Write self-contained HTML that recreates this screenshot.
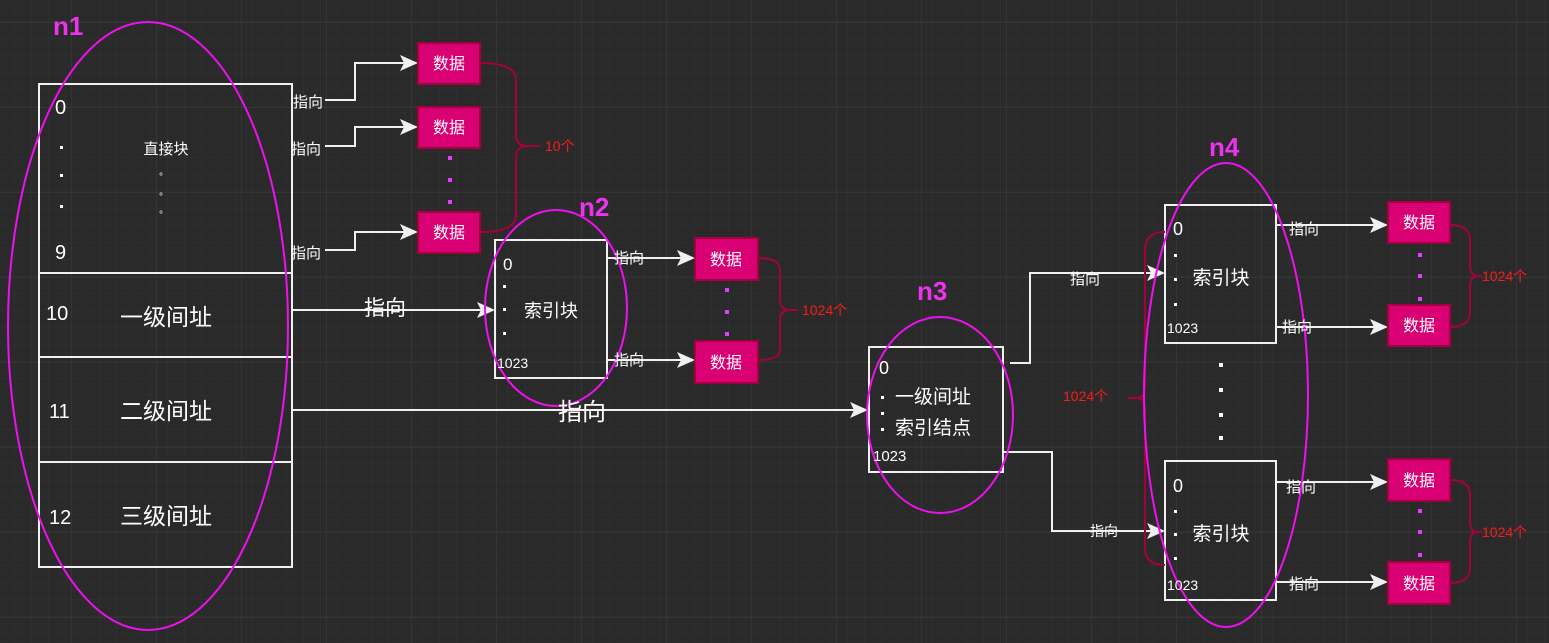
<!DOCTYPE html>
<html><head><meta charset="utf-8"><style>
html,body{margin:0;padding:0;background:#2a2a2a}
svg{display:block}
text{font-family:"Liberation Sans","Noto Sans CJK SC",sans-serif}
</style></head><body>
<svg width="1549" height="643" viewBox="0 0 1549 643" xmlns="http://www.w3.org/2000/svg">
<defs>
<pattern id="gm" width="17" height="17" patternUnits="userSpaceOnUse" x="-2" y="5"><path d="M17 0V17M0 17H17" stroke="#313131" stroke-width="1" fill="none"/></pattern>
<pattern id="gM" width="85" height="85" patternUnits="userSpaceOnUse" x="-14" y="22"><path d="M0 0V85M0 0H85" stroke="#3d3d3d" stroke-width="1" fill="none"/></pattern>
<marker id="ar" markerWidth="18" markerHeight="16" refX="16" refY="8" orient="auto" markerUnits="userSpaceOnUse"><path d="M0 0L18 8L0 16L4 8Z" fill="#f0f0f0"/></marker>
</defs>
<rect width="1549" height="643" fill="#2a2a2a"/>
<rect width="1549" height="643" fill="url(#gm)"/>
<rect width="1549" height="643" fill="url(#gM)"/>

<g fill="none" stroke="#f0f0f0" stroke-width="2">
<rect x="39" y="84" width="253" height="483"/>
<line x1="39" y1="273" x2="292" y2="273"/>
<line x1="39" y1="357" x2="292" y2="357"/>
<line x1="39" y1="462" x2="292" y2="462"/>
<rect x="495" y="240" width="112" height="138"/>
<rect x="869" y="347" width="134" height="125"/>
<rect x="1165" y="205" width="111" height="138"/>
<rect x="1165" y="461" width="111" height="139"/>
<path d="M325 100H355V63H416" marker-end="url(#ar)"/>
<path d="M325 146H355V127H416" marker-end="url(#ar)"/>
<path d="M325 250H355V232H416" marker-end="url(#ar)"/>
<path d="M292 310H493" marker-end="url(#ar)"/>
<path d="M292 410H866" marker-end="url(#ar)"/>
<path d="M607 258H693" marker-end="url(#ar)"/>
<path d="M607 360H693" marker-end="url(#ar)"/>
<path d="M1010 363H1030V273H1163" marker-end="url(#ar)"/>
<path d="M1003 452H1052V531H1163" marker-end="url(#ar)"/>
<path d="M1276 225H1386" marker-end="url(#ar)"/>
<path d="M1276 327H1386" marker-end="url(#ar)"/>
<path d="M1276 482H1386" marker-end="url(#ar)"/>
<path d="M1276 582H1386" marker-end="url(#ar)"/>
</g>

<g fill="#d80073" stroke="#a50040" stroke-width="2">
<rect x="418" y="43" width="62" height="41"/>
<rect x="418" y="107" width="62" height="41"/>
<rect x="418" y="212" width="62" height="41"/>
<rect x="695" y="238" width="63" height="42"/>
<rect x="695" y="341" width="63" height="42"/>
<rect x="1388" y="202" width="62" height="41"/>
<rect x="1388" y="305" width="62" height="41"/>
<rect x="1388" y="459" width="62" height="42"/>
<rect x="1388" y="562" width="62" height="42"/>
</g>
<g fill="#fff" font-size="16" text-anchor="middle">
<text x="449" y="69">数据</text><text x="449" y="133">数据</text><text x="449" y="238">数据</text>
<text x="726" y="265">数据</text><text x="726" y="368">数据</text>
<text x="1419" y="228">数据</text><text x="1419" y="331">数据</text><text x="1419" y="486">数据</text><text x="1419" y="589">数据</text>
</g>
<g fill="#e040fb">
<rect x="448" y="156" width="4" height="4"/><rect x="448" y="178" width="4" height="4"/><rect x="448" y="200" width="4" height="4"/>
<rect x="725" y="288" width="4" height="4"/><rect x="725" y="310" width="4" height="4"/><rect x="725" y="332" width="4" height="4"/>
<rect x="1418" y="253" width="4" height="4"/><rect x="1418" y="274" width="4" height="4"/><rect x="1418" y="297" width="4" height="4"/>
<rect x="1418" y="509" width="4" height="4"/><rect x="1418" y="530" width="4" height="4"/><rect x="1418" y="553" width="4" height="4"/>
</g>
<g fill="#fff">
<rect x="1219" y="363" width="4" height="4"/><rect x="1219" y="388" width="4" height="4"/><rect x="1219" y="413" width="4" height="4"/><rect x="1219" y="436" width="4" height="4"/>
</g>

<g fill="none" stroke="#a50040" stroke-width="2">
<path d="M480 63Q516 63 516 80V135Q516 146 528 146H540M528 146Q516 146 516 157V215Q516 232 480 232"/>
<path d="M758 258Q780 258 780 270V300Q780 310 790 310H798M790 310Q780 310 780 320V350Q780 360 758 360"/>
<path d="M1450 225Q1470 225 1470 240V265Q1470 276 1478 276H1482M1478 276Q1470 276 1470 287V312Q1470 327 1450 327"/>
<path d="M1450 480Q1470 480 1470 495V522Q1470 532 1478 532H1482M1478 532Q1470 532 1470 542V568Q1470 583 1450 583"/>
<path d="M1165 232Q1145 232 1145 250V385Q1145 398 1137 398H1128M1137 398Q1145 398 1145 411V548Q1145 565 1165 565"/>
</g>
<g fill="#ff1a1a" font-size="14">
<text x="545" y="151">10个</text>
<text x="802" y="315">1024个</text>
<text x="1482" y="281">1024个</text>
<text x="1482" y="537">1024个</text>
<text x="1063" y="401">1024个</text>
</g>

<g fill="none" stroke="#ee10ee" stroke-width="2">
<ellipse cx="148" cy="326" rx="140" ry="304"/>
<ellipse cx="556" cy="308" rx="71" ry="98"/>
<ellipse cx="940" cy="415" rx="73" ry="98"/>
<ellipse cx="1226" cy="395" rx="82" ry="232"/>
</g>
<g fill="#ee33ee" font-size="26" font-weight="bold">
<text x="53" y="35">n1</text><text x="579" y="216">n2</text><text x="917" y="300">n3</text><text x="1209" y="156">n4</text>
</g>

<g fill="#fff">
<text x="55" y="114" font-size="20">0</text>
<text x="55" y="259" font-size="20">9</text>
<rect x="60" y="146" width="3" height="3"/><rect x="60" y="174" width="3" height="3"/><rect x="60" y="205" width="3" height="3"/>
<text x="166" y="154" font-size="15" text-anchor="middle">直接块</text>
<text x="161" y="180" font-size="10" text-anchor="middle">°</text>
<text x="161" y="200" font-size="10" text-anchor="middle">°</text>
<text x="161" y="218" font-size="10" text-anchor="middle">°</text>
<text x="46" y="320" font-size="20">10</text>
<text x="166" y="325" font-size="23" text-anchor="middle">一级间址</text>
<text x="49" y="418" font-size="20">11</text>
<text x="166" y="419" font-size="23" text-anchor="middle">二级间址</text>
<text x="49" y="524" font-size="20">12</text>
<text x="166" y="524" font-size="23" text-anchor="middle">三级间址</text>

<text x="293" y="107" font-size="15">指向</text>
<text x="291" y="154" font-size="15">指向</text>
<text x="291" y="258" font-size="15">指向</text>
<text x="385" y="315" font-size="21" text-anchor="middle">指向</text>
<text x="582" y="420" font-size="24" text-anchor="middle">指向</text>
<text x="614" y="263" font-size="15">指向</text>
<text x="614" y="365" font-size="15">指向</text>
<text x="1070" y="284" font-size="15">指向</text>
<text x="1090" y="536" font-size="14">指向</text>
<text x="1289" y="234" font-size="15">指向</text>
<text x="1282" y="332" font-size="15">指向</text>
<text x="1286" y="492" font-size="15">指向</text>
<text x="1289" y="589" font-size="15">指向</text>

<text x="503" y="270" font-size="17">0</text>
<rect x="503" y="285" width="3" height="3"/><rect x="503" y="308" width="3" height="3"/><rect x="503" y="332" width="3" height="3"/>
<text x="551" y="317" font-size="18" text-anchor="middle">索引块</text>
<text x="497" y="368" font-size="14">1023</text>

<text x="879" y="374" font-size="18">0</text>
<rect x="881" y="396" width="3" height="3"/><rect x="881" y="412" width="3" height="3"/><rect x="881" y="428" width="3" height="3"/>
<text x="895" y="403" font-size="19">一级间址</text>
<text x="895" y="434" font-size="19">索引结点</text>
<text x="873" y="461" font-size="15">1023</text>

<text x="1173" y="235" font-size="18">0</text>
<rect x="1174" y="254" width="3" height="3"/><rect x="1174" y="278" width="3" height="3"/><rect x="1174" y="303" width="3" height="3"/>
<text x="1221" y="284" font-size="19" text-anchor="middle">索引块</text>
<text x="1167" y="333" font-size="14">1023</text>

<text x="1173" y="492" font-size="18">0</text>
<rect x="1174" y="510" width="3" height="3"/><rect x="1174" y="533" width="3" height="3"/><rect x="1174" y="557" width="3" height="3"/>
<text x="1221" y="540" font-size="19" text-anchor="middle">索引块</text>
<text x="1167" y="590" font-size="14">1023</text>
</g>
</svg>
</body></html>
